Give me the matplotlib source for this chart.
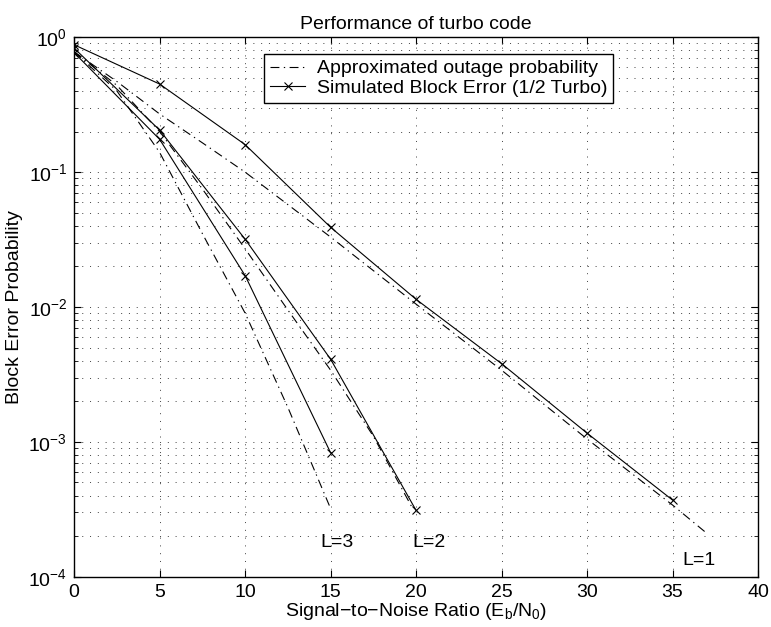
import matplotlib
matplotlib.use("Agg")
import matplotlib.pyplot as plt

plt.rcParams['font.family'] = ['Liberation Sans', 'DejaVu Sans']
plt.rcParams['mathtext.default'] = 'regular'

# Simulated block error (1/2 Turbo)
sim_l1_x = [0, 5, 10, 15, 20, 25, 30, 35]
sim_l1_y = [0.88, 0.45, 0.16, 0.039, 0.0114, 0.0038, 0.00116, 0.00037]
sim_l2_x = [0, 5, 10, 15, 20]
sim_l2_y = [0.83, 0.205, 0.0318, 0.0041, 0.00031]
sim_l3_x = [0, 5, 10, 15]
sim_l3_y = [0.77, 0.175, 0.0171, 0.00083]

# Approximated outage probability
out_l1_x = [0, 2.5, 5, 7.5, 10, 15, 20, 25, 30, 35, 37]
out_l1_y = [0.78, 0.47, 0.27, 0.165, 0.10, 0.033, 0.0105, 0.0034, 0.00105, 0.00034, 0.00021]
out_l2_x = [0, 2.5, 5, 7.5, 10, 12.5, 15, 17.5, 19.8]
out_l2_y = [0.78, 0.44, 0.2, 0.075, 0.027, 0.0095, 0.0034, 0.0011, 0.00032]
out_l3_x = [0, 2.5, 5, 7.5, 10, 12.5, 15]
out_l3_y = [0.78, 0.40, 0.14, 0.035, 0.009, 0.0018, 0.00032]

xticks = [0, 5, 10, 15, 20, 25, 30, 35, 40]
labels_txt = ["L=3", "L=2", "L=1"]
labels_x = [14.4, 19.8, 35.6]
labels_y = [1.8e-4, 1.8e-4, 1.33e-4]

FS = 14

fig = plt.figure(figsize=(7.71, 6.27), dpi=100)
ax = fig.add_axes([0.0962, 0.0802, 0.887, 0.8603])

dashdot = (0, (8, 4, 1.2, 4))
lw = 0.8
ax.plot(out_l1_x, out_l1_y, color='black', lw=lw, linestyle=dashdot,
        label='Approximated outage probability')
ax.plot(out_l2_x, out_l2_y, color='black', lw=lw, linestyle=dashdot)
ax.plot(out_l3_x, out_l3_y, color='black', lw=lw, linestyle=dashdot)

ax.plot(sim_l1_x, sim_l1_y, color='black', lw=lw, marker='x', ms=6, mew=0.8,
        label='Simulated Block Error (1/2 Turbo)')
ax.plot(sim_l2_x, sim_l2_y, color='black', lw=lw, marker='x', ms=6, mew=0.8)
ax.plot(sim_l3_x, sim_l3_y, color='black', lw=lw, marker='x', ms=6, mew=0.8)

for t, x, y in zip(labels_txt, labels_x, labels_y):
    ax.text(x, y, t, fontsize=FS, ha='left', va='center')

ax.set_yscale('log')
ax.set_xlim(0, 40)
ax.set_ylim(1e-4, 1)
ax.set_xticks(xticks)
ax.set_xticklabels([str(v) for v in xticks])

gridstyle = dict(color='0.25', linestyle=(0, (1, 7)), lw=0.7)
ax.grid(True, which='major', axis='both', **gridstyle)
ax.grid(True, which='minor', axis='y', **gridstyle)

ax.tick_params(which='both', direction='in', top=True, right=True, labelsize=FS)
ax.tick_params(which='major', length=5, pad=5)
ax.tick_params(which='minor', length=3)
for s in ax.spines.values():
    s.set_linewidth(1.0)

ax.set_title('Performance of turbo code', fontsize=FS, pad=6)
ax.set_xlabel('Signal\u2212to\u2212Noise Ratio (E$_b$/N$_0$)', fontsize=FS, labelpad=0)
ax.set_ylabel('Block Error Probability', fontsize=FS, labelpad=4)

leg = ax.legend(loc='upper left', bbox_to_anchor=(0.278, 0.969), fontsize=FS,
                fancybox=False, framealpha=1, edgecolor='black', handlelength=1.8,
                borderpad=0.3, labelspacing=0.1, handletextpad=0.6, borderaxespad=0)
leg.get_frame().set_linewidth(1.0)

fig.savefig('out.png', dpi=100)
